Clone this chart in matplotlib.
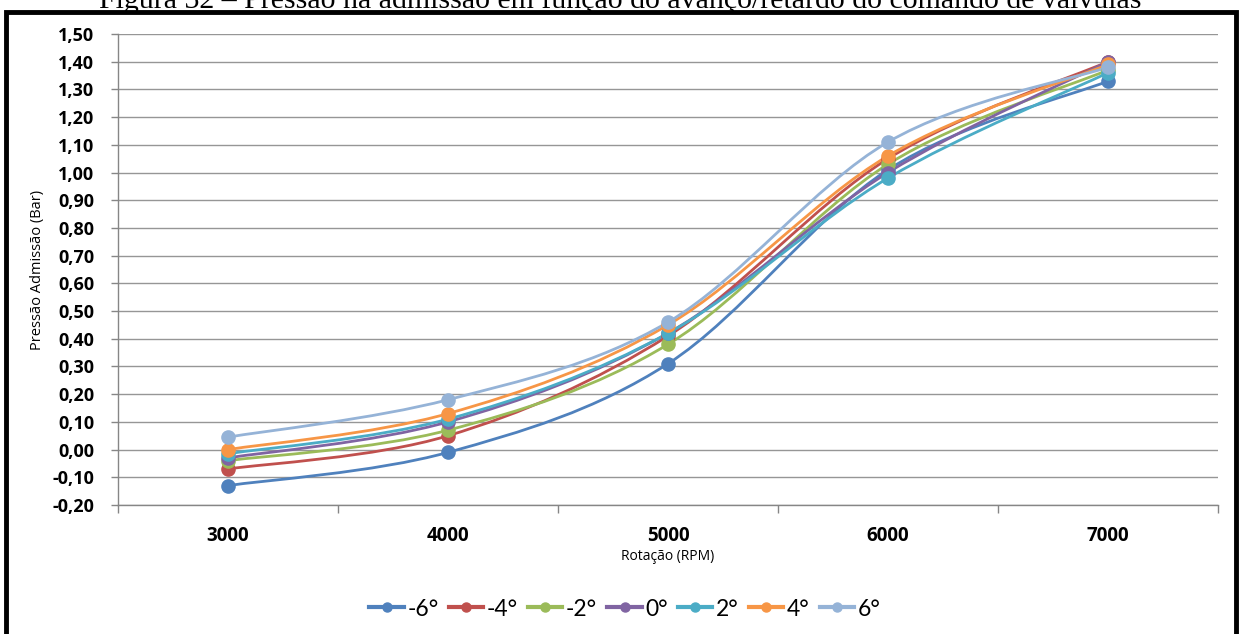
import matplotlib
matplotlib.use("Agg")
import matplotlib.pyplot as plt
from matplotlib.path import Path
from matplotlib.patches import PathPatch, Rectangle
from matplotlib.lines import Line2D
import numpy as np

categories = ["3000", "4000", "5000", "6000", "7000"]
series_names = ["-6°", "-4°", "-2°", "0°", "2°", "4°", "6°"]
s_m6 = [-0.13, -0.01, 0.31, 1.01, 1.33]
s_m4 = [-0.07, 0.05, 0.41, 1.05, 1.40]
s_m2 = [-0.04, 0.07, 0.38, 1.03, 1.37]
s_0 = [-0.03, 0.10, 0.42, 1.00, 1.40]
s_2 = [-0.015, 0.11, 0.42, 0.98, 1.36]
s_4 = [0.00, 0.13, 0.45, 1.06, 1.39]
s_6 = [0.045, 0.18, 0.46, 1.11, 1.38]
series_values = [s_m6, s_m4, s_m2, s_0, s_2, s_4, s_6]
colors = ["#4F81BD", "#C0504D", "#9BBB59", "#8064A2", "#4BACC6", "#F79646", "#95B3D7"]
yticks = [round(-0.2 + 0.1 * i, 2) for i in range(18)]

W, H = 1241, 634
fig = plt.figure(figsize=(W / 100, H / 100), dpi=100)
fig.patch.set_facecolor("white")

ax = fig.add_axes([118 / W, 1 - 505 / H, 1100 / W, 471 / H])
ax.set_xlim(-0.5, len(categories) - 0.5)
ax.set_ylim(-0.2, 1.5)


def smooth_path(xs, ys):
    pts = list(zip(xs, ys))
    n = len(pts)
    verts = [pts[0]]
    codes = [Path.MOVETO]
    for i in range(n - 1):
        p0 = pts[i - 1] if i > 0 else pts[i]
        p1 = pts[i]
        p2 = pts[i + 1]
        p3 = pts[i + 2] if i + 2 < n else pts[i + 1]
        c1 = (p1[0] + (p2[0] - p0[0]) / 6, p1[1] + (p2[1] - p0[1]) / 6)
        c2 = (p2[0] - (p3[0] - p1[0]) / 6, p2[1] - (p3[1] - p1[1]) / 6)
        verts += [c1, c2, p2]
        codes += [Path.CURVE4] * 3
    return Path(verts, codes)


xs = np.arange(len(categories))
for vals, col in zip(series_values, colors):
    ax.add_patch(PathPatch(smooth_path(xs, vals), facecolor="none", edgecolor=col,
                           lw=2.0, zorder=3, capstyle="round"))
    ax.plot(xs, vals, linestyle="none", marker="o", markersize=9.5, color=col, zorder=4)

ax.set_yticks(yticks)
ax.set_yticklabels([f"{v:.2f}".replace(".", ",") for v in yticks],
                   fontsize=13, fontweight="bold", family="Open Sans")
ax.set_xticks(xs)
ax.set_xticklabels(categories, fontsize=13.5, fontweight="bold", family="Open Sans")
ax.set_xticks(np.arange(-0.5, len(categories)), minor=True)
ax.tick_params(axis="x", which="major", length=0, pad=15)
ax.tick_params(axis="x", which="minor", length=6, color="#868686", width=1)
ax.tick_params(axis="y", length=5, color="#868686", width=1, pad=12)
ax.grid(axis="y", color="#969696", lw=1.0, zorder=0)
for s in ["top", "right"]:
    ax.spines[s].set_visible(False)
for s in ["left", "bottom"]:
    ax.spines[s].set_color("#868686")
    ax.spines[s].set_linewidth(1)

ax.set_ylabel("Pressão Admissão (Bar)", fontsize=10.5, family="Open Sans",
              va="center")
ax.yaxis.set_label_coords((38 - 118) / 1100, 0.5)
ax.set_xlabel("Rotação (RPM)", fontsize=10, family="Open Sans")
ax.xaxis.set_label_coords(0.5, (505 - 556) / 471)
ax.xaxis.label.set_verticalalignment("center")

handles = [Line2D([0], [0], color=c, lw=3, marker="o", markersize=6.5) for c in colors]
fig.legend(handles, series_names, loc="center", bbox_to_anchor=(625 / W, 1 - 609 / H),
           ncol=7, frameon=False, handlelength=1.5, handletextpad=0.15,
           columnspacing=0.45, prop={"family": "Lato", "size": 16.5})

fig.add_artist(Rectangle((6 / W, -0.05), (1230) / W, (1 - 12 / H) + 0.05,
                         transform=fig.transFigure, fill=False, edgecolor="black",
                         lw=3.5, zorder=10))

fig.text(620 / W, 1 - 8 / H,
         "Figura 32 – Pressão na admissão em função do avanço/retardo do comando de válvulas",
         ha="center", va="baseline", fontsize=21.5, family="Liberation Serif")

fig.savefig("out.png", dpi=100)
